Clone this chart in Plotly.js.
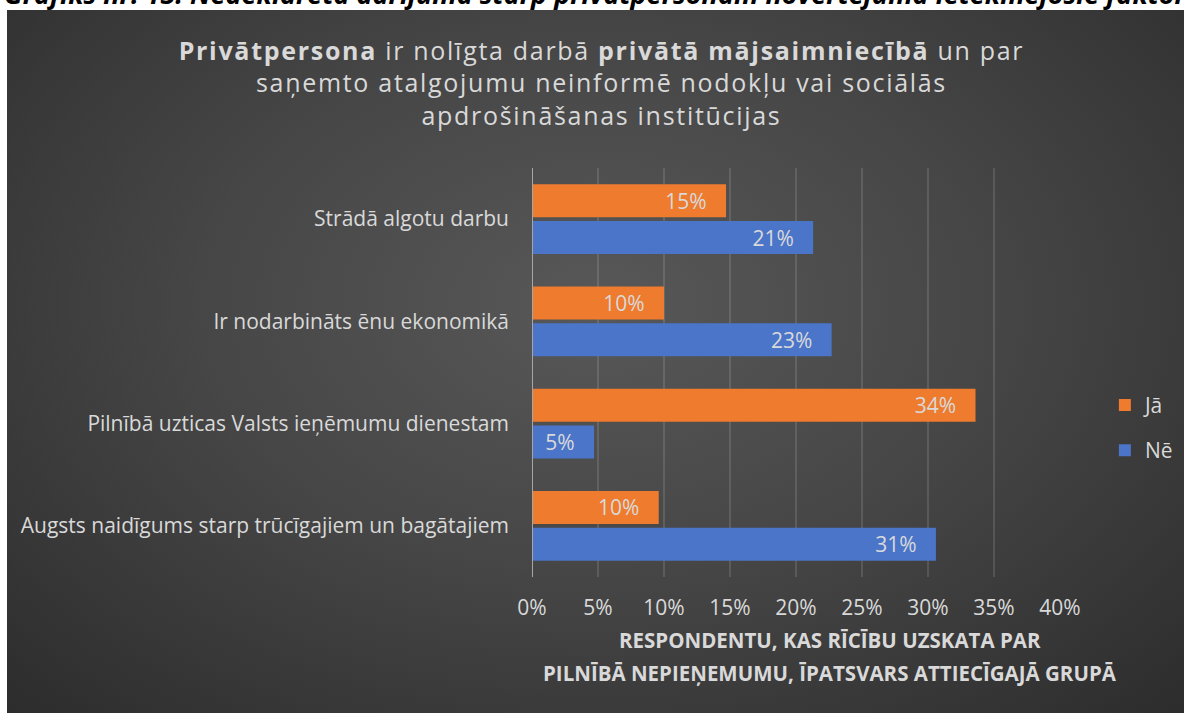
<!DOCTYPE html>
<html>
<head>
<meta charset="utf-8">
<script src="https://cdn.plot.ly/plotly-3.0.1.min.js"></script>
<style>
  html, body { margin: 0; padding: 0; background: #ffffff; }
  #bg { position: absolute; left: 7px; top: 10px; width: 1177px; height: 703px;
        background: radial-gradient(ellipse 75% 85% at 50% 42%, #585858 0%, #464646 45%, #2a2a2a 100%); }
  #chart { position: absolute; left: 0; top: 0; width: 1184px; height: 713px; }
  #chart .gtitle { letter-spacing: 1.7px; }
</style>
</head>
<body>
<div id="bg"></div>
<div id="chart"></div>
<script>
const categories = [
  "Strādā algotu darbu",
  "Ir nodarbināts ēnu ekonomikā",
  "Pilnībā uzticas Valsts ieņēmumu dienestam",
  "Augsts naidīgums starp trūcīgajiem un bagātajiem"
];
const seriesNames = ["Jā", "Nē"];
const valuesJa = [0.147, 0.100, 0.336, 0.096];
const valuesNe = [0.213, 0.227, 0.047, 0.306];
const xTickLabels = ["0%", "5%", "10%", "15%", "20%", "25%", "30%", "35%", "40%"];
const xTickValues = [0, 0.05, 0.10, 0.15, 0.20, 0.25, 0.30, 0.35, 0.40];
const captionText = "Grafiks nr. 15. Nedeklarēta darījuma starp privātpersonām novērtējuma ietekmējošie faktori";
const titleText = "<b>Privātpersona</b> ir nolīgta darbā <b>privātā mājsaimniecībā</b> un par<br>saņemto atalgojumu neinformē nodokļu vai sociālās<br>apdrošināšanas institūcijas";
const axisTitleLines = ["RESPONDENTU, KAS RĪCĪBU UZSKATA PAR", "PILNĪBĀ NEPIEŅEMUMU, ĪPATSVARS ATTIECĪGAJĀ GRUPĀ"];

const txtColor = "#d9d9d9";
const font = "'Open Sans', 'DejaVu Sans', sans-serif";
const pad = "\u00a0\u00a0\u00a0";

function barTrace(name, vals, color, group) {
  return {
    type: "bar", orientation: "h", name: name,
    y: categories, x: vals,
    legendgroup: group,
    marker: { color: color, line: { width: 0 } },
    texttemplate: "%{x:.0%}" + pad,
    textposition: "inside", insidetextanchor: "end", constraintext: "none",
    textfont: { color: txtColor, size: 21, family: font },
    hoverinfo: "x+y+name"
  };
}

const data = [
  barTrace(seriesNames[0], valuesJa, "#ee7b2e", "a"),
  barTrace(seriesNames[1], valuesNe, "#4a75c9", "b")
];

const layout = {
  width: 1184, height: 713,
  paper_bgcolor: "rgba(0,0,0,0)", plot_bgcolor: "rgba(0,0,0,0)",
  margin: { l: 532, r: 124, t: 168, b: 136, autoexpand: false },
  font: { family: font, color: txtColor, size: 21 },
  title: {
    text: titleText,
    x: 0.508, xref: "container", xanchor: "center",
    y: 0.916, yref: "container", yanchor: "middle",
    font: { family: font, size: 25, color: txtColor }
  },
  barmode: "group", bargap: 0.28, bargroupgap: 0.1,
  showlegend: true,
  legend: {
    x: 1.085, xanchor: "left", y: 0.47, yanchor: "top",
    traceorder: "grouped", tracegroupgap: 15,
    font: { family: font, size: 21, color: txtColor },
    bgcolor: "rgba(0,0,0,0)", itemwidth: 30
  },
  xaxis: {
    range: [0, 0.4], tickvals: xTickValues, ticktext: xTickLabels,
    showgrid: true, gridcolor: "rgba(255,255,255,0.12)", gridwidth: 1.5,
    zeroline: false, showline: false, ticks: "",
    ticklabelstandoff: 16,
    tickfont: { family: font, size: 21, color: txtColor },
    fixedrange: true
  },
  yaxis: {
    type: "category", autorange: "reversed",
    showgrid: false, zeroline: false,
    showline: false, ticks: "",
    ticklabelstandoff: 22,
    tickfont: { family: font, size: 21, color: txtColor },
    fixedrange: true
  },
  shapes: [{
    type: "line", xref: "x", yref: "paper", x0: 0, x1: 0, y0: 0, y1: 1,
    line: { color: "#a6a6a6", width: 2 }
  }],
  annotations: [
    { text: "<i><b>" + captionText + "</b></i>", xref: "paper", yref: "paper",
      x: -1.004, xanchor: "left", y: 1, yanchor: "bottom", yshift: 154,
      showarrow: false, font: { family: font, size: 27, color: "#000000" } },
    { text: "<b>" + axisTitleLines[0] + "</b>", xref: "paper", yref: "paper",
      x: 0.564, xanchor: "center", y: 0, yanchor: "middle", yshift: -63,
      showarrow: false, font: { family: font, size: 20.5, color: txtColor } },
    { text: "<b>" + axisTitleLines[1] + "</b>", xref: "paper", yref: "paper",
      x: 0.564, xanchor: "center", y: 0, yanchor: "middle", yshift: -96,
      showarrow: false, font: { family: font, size: 20.5, color: txtColor } }
  ]
};

Plotly.newPlot("chart", data, layout, { displayModeBar: false, staticPlot: true });
</script>
</body>
</html>
